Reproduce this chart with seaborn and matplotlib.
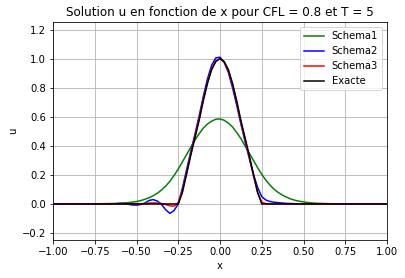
import numpy as np
import pandas as pd
import matplotlib
matplotlib.use("Agg")
import matplotlib.pyplot as plt
import seaborn as sns

x = [-1.0, -0.9, -0.8, -0.7, -0.65, -0.625, -0.6, -0.575, -0.55, -0.525, -0.5,
     -0.475, -0.45, -0.425, -0.4, -0.375, -0.35, -0.325, -0.3, -0.275, -0.25,
     -0.225, -0.2, -0.175, -0.15, -0.125, -0.1, -0.075, -0.05, -0.025, 0.0,
     0.025, 0.05, 0.075, 0.1, 0.125, 0.15, 0.175, 0.2, 0.225, 0.25,
     0.275, 0.3, 0.325, 0.35, 0.375, 0.4, 0.425, 0.45, 0.475, 0.5,
     0.525, 0.55, 0.575, 0.6, 0.625, 0.65, 0.7, 0.8, 0.9, 1.0]

schema1 = [0.0, 0.0, 0.0005, 0.002, 0.003, 0.0035, 0.0048, 0.007, 0.009, 0.013, 0.017,
           0.023, 0.032, 0.043, 0.057, 0.074, 0.096, 0.123, 0.156, 0.196, 0.24,
           0.29, 0.34, 0.39, 0.44, 0.483, 0.522, 0.55, 0.57, 0.583, 0.585,
           0.576, 0.556, 0.53, 0.492, 0.45, 0.40, 0.35, 0.30, 0.25, 0.204,
           0.163, 0.129, 0.10, 0.078, 0.06, 0.046, 0.034, 0.025, 0.019, 0.014,
           0.01, 0.007, 0.005, 0.004, 0.003, 0.002, 0.001, 0.0, 0.0, 0.0]

schema2 = [0.0, 0.0, 0.0, 0.0, 0.0, 0.002, 0.004, 0.003, -0.002, -0.007, -0.008,
           -0.004, 0.006, 0.024, 0.03, 0.02, -0.003, -0.04, -0.065, -0.045, 0.0,
           0.11, 0.235, 0.36, 0.48, 0.605, 0.74, 0.86, 0.955, 1.005, 1.01,
           0.975, 0.905, 0.80, 0.68, 0.55, 0.43, 0.315, 0.205, 0.115, 0.05,
           0.027, 0.017, 0.012, 0.009, 0.006, 0.004, 0.003, 0.002, 0.001, 0.0,
           0.0, 0.0, 0.0, 0.0, 0.0, 0.0, 0.0, 0.0, 0.0, 0.0]

schema3 = [0.0, 0.0, 0.0, 0.0, 0.0, 0.0, 0.0, 0.0, 0.0, 0.001, 0.002,
           0.002, 0.003, 0.006, 0.007, 0.006, 0.003, -0.004, -0.013, -0.015, 0.01,
           0.09, 0.215, 0.345, 0.465, 0.585, 0.72, 0.835, 0.93, 0.985, 1.0,
           0.975, 0.915, 0.82, 0.70, 0.565, 0.445, 0.325, 0.195, 0.08, 0.012,
           0.002, 0.0, 0.0, 0.0, 0.0, 0.0, 0.0, 0.0, 0.0, 0.0,
           0.0, 0.0, 0.0, 0.0, 0.0, 0.0, 0.0, 0.0, 0.0, 0.0]

exacte = [0.0, 0.0, 0.0, 0.0, 0.0, 0.0, 0.0, 0.0, 0.0, 0.0, 0.0,
          0.0, 0.0, 0.0, 0.0, 0.0, 0.0, 0.0, 0.0, 0.0, 0.0,
          0.08, 0.205, 0.335, 0.455, 0.575, 0.71, 0.83, 0.925, 0.98, 1.0,
          0.98, 0.925, 0.83, 0.71, 0.575, 0.455, 0.335, 0.205, 0.08, 0.0,
          0.0, 0.0, 0.0, 0.0, 0.0, 0.0, 0.0, 0.0, 0.0, 0.0,
          0.0, 0.0, 0.0, 0.0, 0.0, 0.0, 0.0, 0.0, 0.0, 0.0]

names = ["Schema1", "Schema2", "Schema3", "Exacte"]
colors = ["green", "blue", "red", "black"]
series = [schema1, schema2, schema3, exacte]

df = pd.concat([pd.DataFrame({"x": x, "u": s, "serie": n}) for n, s in zip(names, series)],
               ignore_index=True)

plt.rcParams.update({
    "font.family": ["DejaVu Sans"],
    "font.size": 10,
    "axes.titlesize": 12,
    "axes.labelsize": 10,
    "xtick.labelsize": 10,
    "ytick.labelsize": 10,
})

fig = plt.figure(figsize=(405 / 72, 278 / 72), dpi=72)
ax = fig.add_axes([53 / 405, 1 - 240.3 / 278, (387 - 53) / 405, (240.3 - 22.3) / 278])

sns.lineplot(data=df, x="x", y="u", hue="serie", palette=dict(zip(names, colors)),
             hue_order=names, estimator=None, sort=False, linewidth=1.5, ax=ax)

ax.set_xlim(-1, 1)
ax.set_ylim(-0.25, 1.25)
ax.set_xticks([-1.0, -0.75, -0.5, -0.25, 0.0, 0.25, 0.5, 0.75, 1.0])
ax.set_yticks([-0.2, 0.0, 0.2, 0.4, 0.6, 0.8, 1.0, 1.2])
ax.grid(True, color="#b0b0b0", linewidth=0.8)
ax.set_axisbelow(True)
ax.set_xlabel("x")
ax.set_ylabel("u")
ax.set_title("Solution u en fonction de x pour CFL = 0.8 et T = 5")
ax.legend(loc="upper right", title=None)

fig.savefig("out.png", dpi=72)
